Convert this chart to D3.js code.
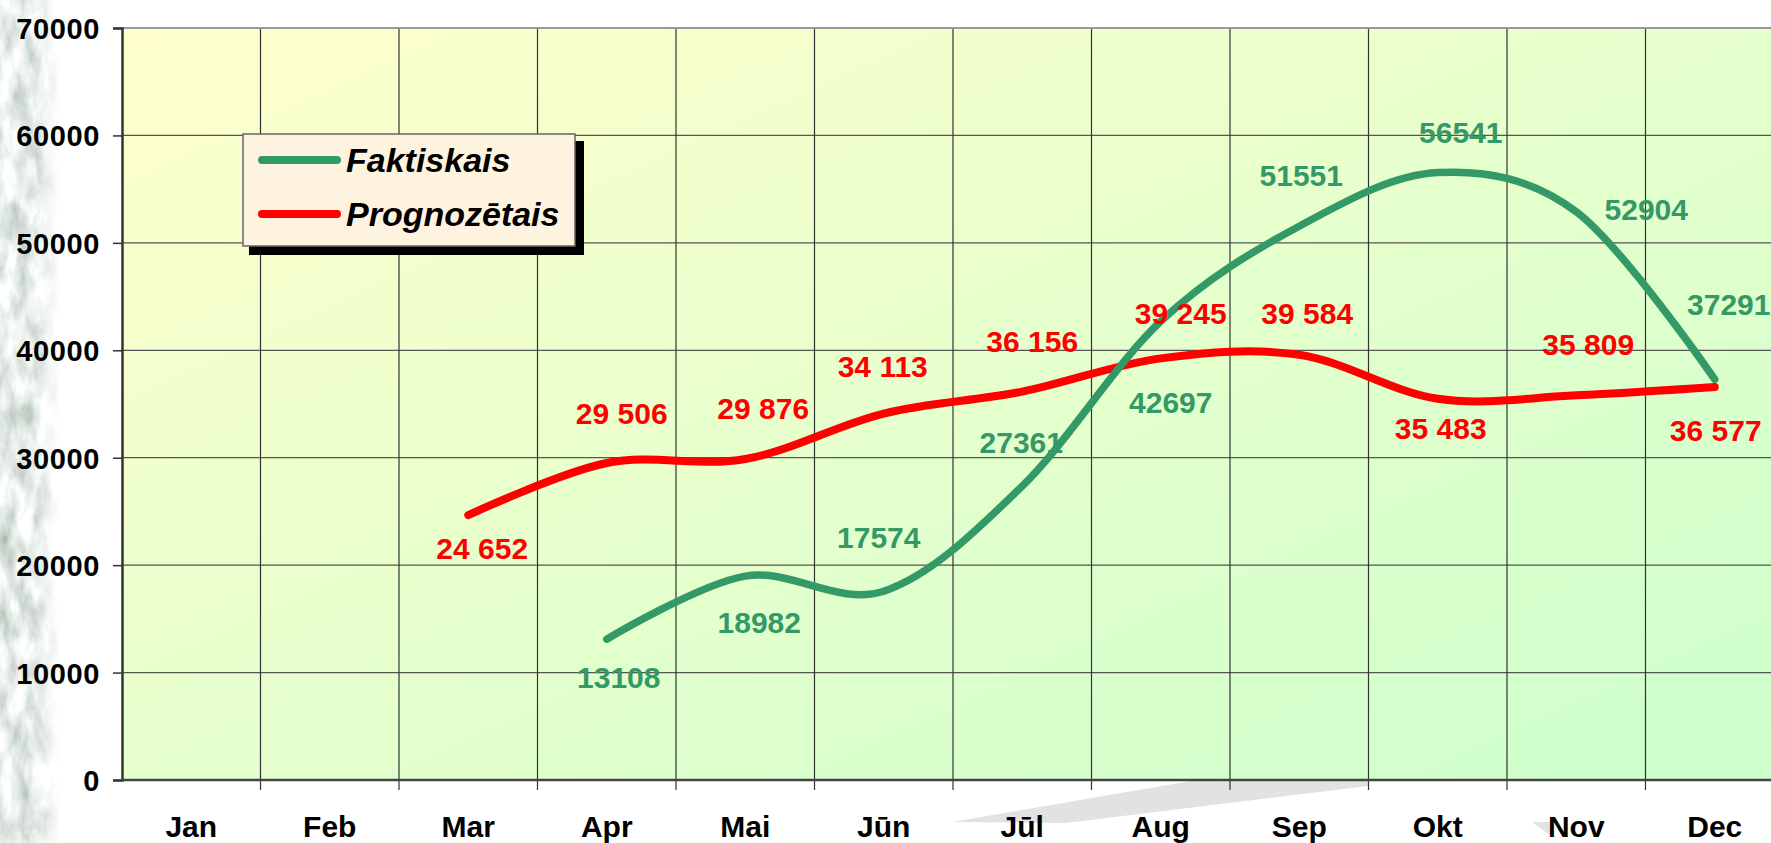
<!DOCTYPE html>
<html>
<head>
<meta charset="utf-8">
<script src="https://cdn.jsdelivr.net/npm/d3@7"></script>
<style>
  body { margin: 0; background: #fff; }
  svg { display: block; font-family: "Liberation Sans", Arial, sans-serif; }
</style>
</head>
<body>
<svg id="chart" width="1771" height="843"></svg>
<script>
// data
const months = ["Jan", "Feb", "Mar", "Apr", "Mai", "Jūn", "Jūl", "Aug", "Sep", "Okt", "Nov", "Dec"];
const faktiskais = [null, null, null, 13108, 18982, 17574, 27361, 42697, 51551, 56541, 52904, 37291];
const prognozetais = [null, null, 24652, 29506, 29876, 34113, 36156, 39245, 39584, 35483, 35809, 36577];
const yTicks = [0, 10000, 20000, 30000, 40000, 50000, 60000, 70000];
const seriesNames = ["Faktiskais", "Prognozētais"];

// layout
const W = 1771, H = 843;
const plotLeft = 122, plotTop = 28, plotBottom = 780;
const colW = 138.5;
const green = "#339966", red = "#ff0000";

// hand placed label offsets (px from the point), same order as the non-null values
const greenOff = [[12, 38], [14, 46], [-5, -54], [-1, -44], [10, 81], [2, -51], [23, -40], [70, -2], [14, -75]];
const redOff = [[14, 33], [15, -50], [18, -51], [-1, -47], [10, -50], [20, -45], [8, -42], [3, 29], [12, -51], [1, 43]];

const svg = d3.select("#chart");
const defs = svg.append("defs");

var x = d3.scaleBand().domain(months).range([plotLeft, plotLeft + colW * months.length]);
var y = d3.scaleLinear().domain([0, 70000]).range([plotBottom, plotTop]);
var cx = m => x(m) + x.bandwidth() / 2;

// background gradient of the plot area
var bg = defs.append("linearGradient").attr("id", "bg")
  .attr("x1", 0).attr("y1", 0).attr("x2", 1).attr("y2", 1);
bg.append("stop").attr("offset", "0%").attr("stop-color", "#ffffcc");
bg.append("stop").attr("offset", "100%").attr("stop-color", "#ccffcc");

// stone texture on the left edge
var tex = defs.append("filter").attr("id", "tex")
  .attr("x", 0).attr("y", 0).attr("width", 1).attr("height", 1);
tex.append("feTurbulence").attr("type", "fractalNoise")
  .attr("baseFrequency", "0.06 0.025").attr("numOctaves", 4).attr("seed", 7);
tex.append("feColorMatrix").attr("type", "matrix")
  .attr("values", "1.0 0 0 0 0.3  0.9 0 0 0 0.4  0.95 0 0 0 0.34  0 0 0 0 1");
var fade = defs.append("linearGradient").attr("id", "fade")
  .attr("x1", 0).attr("y1", 0).attr("x2", 1).attr("y2", 0);
fade.append("stop").attr("offset", "0%").attr("stop-color", "#fff");
fade.append("stop").attr("offset", "60%").attr("stop-color", "#fff");
fade.append("stop").attr("offset", "100%").attr("stop-color", "#000");
defs.append("mask").attr("id", "fadeMask")
  .append("rect").attr("x", 0).attr("y", 0).attr("width", 60).attr("height", H).attr("fill", "url(#fade)");

svg.append("rect").attr("width", W).attr("height", H).attr("fill", "#fff");
svg.append("rect").attr("x", 0).attr("y", 0).attr("width", 60).attr("height", H)
  .attr("filter", "url(#tex)").attr("mask", "url(#fadeMask)");

// grey wedge behind the month labels
svg.append("polygon")
  .attr("points", [[952, 822], [1066, 823], [1368, 786], [1368, 781], [1191, 781]].join(" "))
  .attr("fill", "#e2e2e2");
svg.append("polygon")
  .attr("points", [[1532, 822], [1551, 822], [1554, 838]].join(" "))
  .attr("fill", "#e2e2e2");

// plot area
var plotRight = plotLeft + colW * months.length;
svg.append("rect")
  .attr("x", plotLeft).attr("y", plotTop)
  .attr("width", plotRight - plotLeft).attr("height", plotBottom - plotTop)
  .attr("fill", "url(#bg)");

// gridlines
svg.append("g").selectAll("line").data(yTicks.slice(1, -1)).join("line")
  .attr("x1", plotLeft).attr("x2", plotRight)
  .attr("y1", d => y(d)).attr("y2", d => y(d))
  .attr("stroke", "#555").attr("stroke-width", 1.2);
svg.append("g").selectAll("line").data(months.slice(1)).join("line")
  .attr("x1", d => x(d)).attr("x2", d => x(d))
  .attr("y1", plotTop).attr("y2", plotBottom + 10)
  .attr("stroke", "#333").attr("stroke-width", 1.2);

// top border
svg.append("line").attr("x1", plotLeft).attr("x2", plotRight)
  .attr("y1", plotTop).attr("y2", plotTop)
  .attr("stroke", "#999").attr("stroke-width", 2);

// y axis
var yAxis = svg.append("g").attr("transform", `translate(${plotLeft},0)`)
  .call(d3.axisLeft(y).tickValues(yTicks).tickSize(9).tickPadding(13).tickFormat(d => d));
yAxis.select(".domain").attr("stroke", "#333").attr("stroke-width", 2.5);
yAxis.selectAll(".tick line").attr("stroke", "#333").attr("stroke-width", 1.5);
yAxis.selectAll(".tick text")
  .attr("font-size", 29).attr("font-weight", "bold").attr("fill", "#000")
  .attr("font-family", "Liberation Sans, Arial, sans-serif").attr("dy", "0.36em")
  .attr("letter-spacing", 0.6);

// x axis
svg.append("line").attr("x1", plotLeft).attr("x2", plotRight)
  .attr("y1", plotBottom).attr("y2", plotBottom)
  .attr("stroke", "#444").attr("stroke-width", 2.5);
svg.append("g").selectAll("text").data(months).join("text")
  .attr("x", d => cx(d)).attr("y", 837)
  .attr("text-anchor", "middle")
  .attr("font-size", 30).attr("font-weight", "bold").attr("fill", "#000")
  .text(d => d);

// lines
var line = d3.line()
  .defined(d => d.v != null)
  .x(d => cx(d.m)).y(d => y(d.v))
  .curve(d3.curveCardinal.tension(0));

function series(vals) {
  return months.map((m, i) => ({m: m, v: vals[i]})).filter(d => d.v != null);
}

var sG = series(faktiskais), sR = series(prognozetais);

svg.append("path").datum(sR).attr("d", line)
  .attr("fill", "none").attr("stroke", red).attr("stroke-width", 8)
  .attr("stroke-linecap", "round").attr("stroke-linejoin", "round");
svg.append("path").datum(sG).attr("d", line)
  .attr("fill", "none").attr("stroke", green).attr("stroke-width", 7.5)
  .attr("stroke-linecap", "round").attr("stroke-linejoin", "round");

// value labels
var spaced = d3.formatLocale({decimal: ",", thousands: " ", grouping: [3]}).format(",d");

svg.append("g").selectAll("text").data(sG).join("text")
  .attr("x", (d, i) => cx(d.m) + greenOff[i][0])
  .attr("y", (d, i) => y(d.v) + greenOff[i][1])
  .attr("dy", "0.36em").attr("text-anchor", "middle")
  .attr("font-size", 30).attr("font-weight", "bold").attr("fill", green)
  .text(d => d.v);

svg.append("g").selectAll("text").data(sR).join("text")
  .attr("x", (d, i) => cx(d.m) + redOff[i][0])
  .attr("y", (d, i) => y(d.v) + redOff[i][1])
  .attr("dy", "0.36em").attr("text-anchor", "middle")
  .attr("font-size", 30).attr("font-weight", "bold").attr("fill", red)
  .text(d => spaced(d.v));

// legend
var lg = svg.append("g");
lg.append("rect").attr("x", 249).attr("y", 141).attr("width", 335).attr("height", 114).attr("fill", "#000");
lg.append("rect").attr("x", 243).attr("y", 134).attr("width", 332).attr("height", 112)
  .attr("fill", "#fef3de").attr("stroke", "#666").attr("stroke-width", 1.5);
var items = lg.selectAll("g.item").data(seriesNames).join("g").attr("class", "item")
  .attr("transform", (d, i) => `translate(0,${160 + i * 54})`);
items.append("line").attr("x1", 262).attr("x2", 337)
  .attr("stroke", (d, i) => i ? red : green).attr("stroke-width", 8).attr("stroke-linecap", "round");
items.append("text").attr("x", 346).attr("y", 12)
  .attr("font-size", 34).attr("font-weight", "bold").attr("font-style", "italic").attr("fill", "#000")
  .text(d => d);
</script>
</body>
</html>
